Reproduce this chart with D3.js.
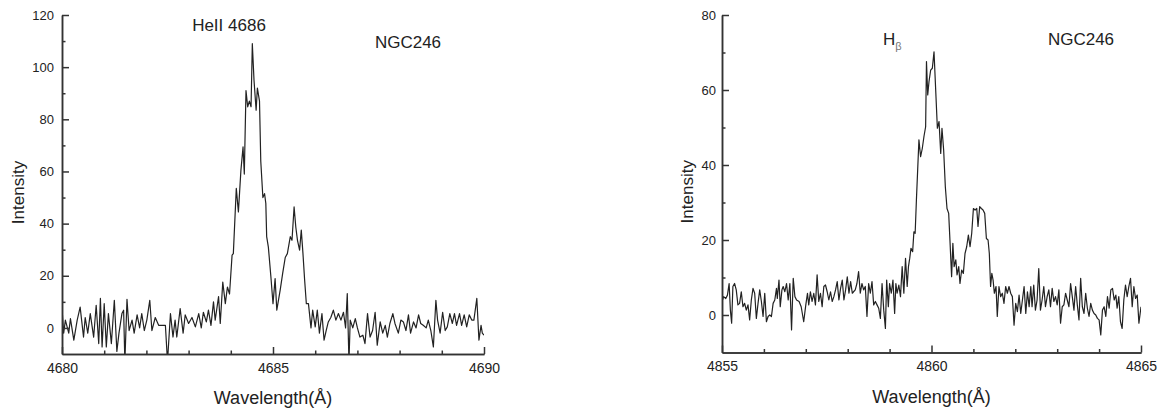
<!DOCTYPE html>
<html>
<head>
<meta charset="utf-8">
<script src="https://cdn.jsdelivr.net/npm/d3@7"></script>
<style>
  body { margin: 0; background: #fff; }
  text { font-family: 'Liberation Sans', Arial, sans-serif; fill: #222; }
</style>
</head>
<body>
<script>
// HeII 4686 panel: wavelength offsets from heStart (Å) and intensities
const heStart = 4680
const heOffset = [
  0.00, 0.04, 0.08, 0.16, 0.20, 0.28, 0.36, 0.43, 0.51, 0.55,
  0.61, 0.67, 0.75, 0.81, 0.87, 0.91, 0.95, 1.00, 1.05, 1.10,
  1.17, 1.24, 1.30, 1.35, 1.42, 1.46, 1.49, 1.54, 1.59, 1.66,
  1.71, 1.78, 1.84, 1.89, 1.95, 2.01, 2.08, 2.13, 2.21, 2.29,
  2.37, 2.45, 2.50, 2.57, 2.63, 2.68, 2.72, 2.80, 2.87, 2.92,
  3.00, 3.08, 3.16, 3.24, 3.30, 3.35, 3.42, 3.47, 3.53, 3.59,
  3.63, 3.71, 3.75, 3.81, 3.87, 3.92, 3.97, 4.03, 4.06, 4.13,
  4.18, 4.24, 4.29, 4.32, 4.36, 4.40, 4.44, 4.48, 4.51, 4.55,
  4.60, 4.63, 4.68, 4.71, 4.76, 4.80, 4.83, 4.85, 4.89, 4.95,
  5.00, 5.05, 5.09, 5.17, 5.23, 5.29, 5.34, 5.41, 5.45, 5.50,
  5.54, 5.58, 5.63, 5.67, 5.71, 5.75, 5.79, 5.84, 5.90, 5.94,
  6.00, 6.05, 6.10, 6.16, 6.21, 6.26, 6.31, 6.37, 6.43, 6.49,
  6.55, 6.61, 6.67, 6.72, 6.76, 6.80, 6.83, 6.89, 6.95, 7.00,
  7.06, 7.13, 7.18, 7.24, 7.30, 7.36, 7.42, 7.47, 7.54, 7.60,
  7.66, 7.71, 7.77, 7.84, 7.89, 7.97, 8.03, 8.09, 8.15, 8.21,
  8.26, 8.33, 8.39, 8.45, 8.50, 8.56, 8.63, 8.68, 8.74, 8.80,
  8.86, 8.90, 8.96, 9.02, 9.08, 9.13, 9.19, 9.25, 9.30, 9.35,
  9.42, 9.47, 9.53, 9.59, 9.65, 9.71, 9.76, 9.83, 9.88, 9.93,
  9.96, 10.00
]
const heIntensity = [
  7.4, -2, 3, -2, 3.6, -4.7, 3, 8, -3.5, 4,
  -2, 5.5, -3.5, 8.7, -6, 11.3, -7.3, 9.3, -7.3, 5.5,
  -6, 10.6, -9, -2, 5.5, 6.8, -13, 11, -1, 3,
  -2, 5, 0, 5.5, -1, 3, 10.6, -1, 4, 1,
  1, 1, -13, 5.5, -3.5, 3, -3.5, 7.4, -2, 5,
  1.7, 4, 0.4, 5.5, 0, 6, 2.3, 6.8, 1, 10,
  3, 12, 1.7, 17.6, 9.3, 15.7, 13, 27.9, 28.5, 53.5,
  44.5, 60.5, 69.4, 59, 91, 84.8, 87, 84.8, 109, 95,
  83.5, 92, 87, 64, 50, 51.5, 47.7, 35, 31, 19.6,
  9.3, 18.9, 6.8, 14.5, 21, 27, 28.5, 35, 33.6, 46.4,
  38.7, 33.6, 29.8, 37.5, 28.5, 18.3, 9.3, 9.3, 0, 6.8,
  0.4, 6.8, -2, 5.5, -4.7, -1, 2.3, 4, 6.8, 3,
  5.5, 3, 6, 0, 13.2, -13, 3, 0, 3.6, 0,
  -3.5, -2.8, -6, 5.5, -3.5, -1, 6, -6.6, 2.3, -2,
  1, -3.5, 1.7, 5.5, 1.7, -2, 3, 2.3, -1, 5,
  -2, 2.3, 0, 5, 1.7, 1, 0, 3, -1, -7.3,
  10.6, 3, -2, 6, -1, 0.4, 5.5, 1.7, 5.5, 1,
  5.5, 1, 5, 0.4, 5, 3, 3, 11.3, -4.7, 1,
  -2, -2.8
]

// H beta panel
const hbStart = 4855
const hbOffset = [
  0.00, 0.04, 0.09, 0.13, 0.17, 0.20, 0.23, 0.26, 0.30, 0.34,
  0.38, 0.42, 0.46, 0.50, 0.54, 0.58, 0.62, 0.66, 0.70, 0.74,
  0.78, 0.82, 0.86, 0.90, 0.94, 0.98, 1.02, 1.06, 1.10, 1.14,
  1.18, 1.22, 1.26, 1.30, 1.32, 1.36, 1.39, 1.43, 1.46, 1.50,
  1.54, 1.58, 1.62, 1.66, 1.70, 1.74, 1.78, 1.84, 1.89, 1.95,
  2.00, 2.04, 2.07, 2.11, 2.15, 2.19, 2.23, 2.27, 2.31, 2.35,
  2.39, 2.43, 2.47, 2.51, 2.55, 2.59, 2.63, 2.67, 2.71, 2.75,
  2.79, 2.83, 2.87, 2.91, 2.95, 2.99, 3.03, 3.07, 3.11, 3.14,
  3.18, 3.22, 3.26, 3.30, 3.34, 3.38, 3.42, 3.46, 3.50, 3.54,
  3.58, 3.62, 3.66, 3.70, 3.74, 3.78, 3.82, 3.86, 3.90, 3.93,
  3.97, 4.00, 4.04, 4.08, 4.12, 4.15, 4.18, 4.22, 4.26, 4.30,
  4.34, 4.38, 4.42, 4.45, 4.48, 4.51, 4.55, 4.58, 4.61, 4.64,
  4.67, 4.70, 4.74, 4.78, 4.82, 4.86, 4.88, 4.91, 4.94, 4.98,
  5.02, 5.06, 5.10, 5.14, 5.18, 5.22, 5.25, 5.29, 5.33, 5.37,
  5.41, 5.44, 5.48, 5.51, 5.54, 5.58, 5.61, 5.65, 5.68, 5.72,
  5.76, 5.80, 5.84, 5.88, 5.92, 5.96, 6.00, 6.04, 6.08, 6.11,
  6.15, 6.19, 6.23, 6.27, 6.31, 6.35, 6.38, 6.41, 6.44, 6.47,
  6.50, 6.54, 6.57, 6.61, 6.65, 6.69, 6.73, 6.77, 6.81, 6.85,
  6.89, 6.93, 6.97, 7.01, 7.05, 7.09, 7.13, 7.17, 7.21, 7.25,
  7.29, 7.33, 7.37, 7.40, 7.44, 7.48, 7.52, 7.56, 7.60, 7.64,
  7.68, 7.72, 7.76, 7.80, 7.84, 7.88, 7.92, 7.96, 8.00, 8.04,
  8.08, 8.12, 8.16, 8.20, 8.24, 8.28, 8.32, 8.36, 8.40, 8.44,
  8.48, 8.52, 8.56, 8.60, 8.64, 8.68, 8.72, 8.76, 8.80, 8.84,
  8.88, 8.92, 8.96, 9.00, 9.04, 9.08, 9.12, 9.16, 9.20, 9.24,
  9.28, 9.32, 9.36, 9.40, 9.43, 9.47, 9.51, 9.55, 9.59, 9.63,
  9.67, 9.71, 9.75, 9.79, 9.83, 9.87, 9.91, 9.95, 10.00
]
const hbIntensity = [
  3.6, 4.9, 4.4, 5.3, 8.4, 1.3, -2.2, 7.6, 8.4, 6.7,
  2.7, 3.1, 6.2, 2.2, 3.1, 1.3, 2.7, -1.3, 4, 7.1,
  5.8, -0.9, 3.1, 6.7, 3.6, -0.4, 5.8, -1.8, -0.4, 0,
  -0.4, 3.1, 4, 7.1, 4.4, 9.3, 2.2, 6.7, 7.6, 6.2,
  8.4, 4, 8.4, -4, 9.8, 4.9, 4, 3.6, 2.2, -1.8,
  2.7, 5.8, 2.7, 6.2, 3.6, 5.8, 2.7, 10.7, 3.6, 5.8,
  2.2, 7.6, 8, 6.2, 4, 6.2, 3.6, 4.9, 6.7, 8.9,
  4, 7.1, 9.3, 4, 6.7, 10.2, 5.8, 8.9, 5.8, 6.2,
  6.7, 8.4, 11.6, 5.8, 8.4, 6.7, 7.6, -0.4, 8.4, 5.8,
  8.9, 2.7, 3.6, 2.7, 1.8, -0.9, 8.4, 1.3, -3.6, 9.3,
  2.2, 8.4, 5.8, 9.3, 0.4, 8.4, 5.8, 8, 4.9, 12.9,
  5.8, 15.1, 7.6, 12.9, 15.1, 17.8, 16.9, 22.2, 21.8, 30.7,
  38.7, 46.7, 42.2, 44.4, 47.6, 50.2, 67.6, 58.7, 62.2, 65.3,
  65.8, 70.2, 60, 49.8, 51.6, 43.1, 49.8, 44, 34.2, 28.4,
  27.1, 20, 10.2, 19.1, 12.9, 14.7, 10.7, 12.9, 8.4, 12,
  11.1, 16.4, 18.2, 21.3, 18.2, 21.8, 28.4, 28, 28.4, 23.6,
  28.9, 28.4, 28, 27.1, 20.4, 20, 16.4, 7.6, 11.1, 9.3,
  5.8, 7.6, -0.4, 7.6, 4.9, 5.8, 3.1, 7.6, 5.8, 7.6,
  5.8, 4.9, -2.7, 3.1, 0.9, 5.3, 0.4, 4, 7.6, 0.4,
  6.2, 2.2, 7.6, 2.2, 8, 1.3, 4, 12.4, 1.3, 4,
  7.6, 2.2, 4.9, 6.7, 2.2, 7.1, 3.6, 4.9, 2.7, 6.7,
  -2.2, 2.2, 2.7, 5.8, 4, 2.2, 8.4, 4.9, 1.3, 7.6,
  2.7, -1.3, 9.8, 2.2, 0.4, 5.8, 1.8, -0.4, 3.1, 1.3,
  0.4, 0, -0.9, -1.3, -5.3, 1.3, 2.2, -0.4, 4.9, 1.8,
  6.7, 7.1, 4, 5.3, 1.8, 4.9, -1.8, -3.6, 4, 8,
  4.9, 7.6, 9.8, 2.2, 7.6, 4.4, 5.3, -2.2, 2.2
]

// axis ticks
const heXMajor = [4680, 4685, 4690]
const heYMajor = [0, 20, 40, 60, 80, 100, 120]
const hbXMajor = [4855, 4860, 4865]
const hbYMajor = [0, 20, 40, 60, 80]

const svg = d3.select('body').append('svg')
  .attr('width', 1162)
  .attr('height', 409)

/**
 * Draws one spectrum panel with inward ticks
 */
function drawPanel (p) {
  const x = d3.scaleLinear().domain(p.xDomain).range([p.left, p.right])
  const y = d3.scaleLinear().domain(p.yDomain).range([p.bottom, p.top])
  const g = svg.append('g')

  const clipId = 'clip-' + p.id
  svg.append('clipPath').attr('id', clipId)
    .append('rect')
    .attr('x', p.left)
    .attr('y', p.top - 5)
    .attr('width', p.right - p.left)
    .attr('height', p.bottom - p.top + 5)

  const points = p.offset.map((o, i) => [p.start + o, p.intensity[i]])
  const line = d3.line().x(d => x(d[0])).y(d => y(d[1]))
  g.append('path')
    .datum(points)
    .attr('clip-path', 'url(#' + clipId + ')')
    .attr('fill', 'none')
    .attr('stroke', '#222')
    .attr('stroke-width', 1.2)
    .attr('stroke-linejoin', 'round')
    .attr('d', line)

  // minor ticks every 1 Å and every 10 intensity units
  const xMinor = d3.range(p.xDomain[0] + 1, p.xDomain[1], 1).filter(v => !p.xMajor.includes(v))
  const yMinor = d3.range(10, p.yDomain[1], 20)

  g.append('g')
    .attr('transform', `translate(0,${p.bottom})`)
    .call(d3.axisBottom(x).tickValues(xMinor).tickSize(-3.5).tickSizeOuter(0).tickFormat(''))
  g.append('g')
    .attr('transform', `translate(${p.left},0)`)
    .call(d3.axisLeft(y).tickValues(yMinor).tickSize(-3.5).tickSizeOuter(0).tickFormat(''))

  const xAxis = g.append('g')
    .attr('transform', `translate(0,${p.bottom})`)
    .call(d3.axisBottom(x).tickValues(p.xMajor).tickSize(-7).tickSizeOuter(0).tickPadding(9).tickFormat(d3.format('d')))
  const yAxis = g.append('g')
    .attr('transform', `translate(${p.left},0)`)
    .call(d3.axisLeft(y).tickValues(p.yMajor).tickSize(-7).tickSizeOuter(0).tickPadding(p.yPad).tickFormat(d3.format('d')))

  g.selectAll('.domain, .tick line')
    .attr('stroke', '#333')
    .attr('stroke-width', 1.5)
  xAxis.selectAll('text').attr('font-size', '14px').attr('fill', '#222')
  yAxis.selectAll('text').attr('font-size', '13px').attr('fill', '#222')
  g.selectAll('text').attr('font-family', null)

  g.append('text')
    .attr('x', (p.left + p.right) / 2)
    .attr('y', p.bottom + 50)
    .attr('text-anchor', 'middle')
    .attr('font-size', '18px')
    .text('Wavelength(Å)')

  g.append('text')
    .attr('transform', `translate(${p.yTitleX},${(p.top + p.bottom) / 2 + 8}) rotate(-90)`)
    .attr('text-anchor', 'middle')
    .attr('font-size', '17px')
    .text('Intensity')

  g.append('text')
    .attr('x', p.tagX)
    .attr('y', p.tagY)
    .attr('text-anchor', 'middle')
    .attr('font-size', '17px')
    .text('NGC246')

  return g
}

const left = drawPanel({
  id: 'he',
  start: heStart,
  offset: heOffset,
  intensity: heIntensity,
  xDomain: [4680, 4690],
  yDomain: [-10, 120],
  xMajor: heXMajor,
  yMajor: heYMajor,
  left: 62,
  right: 484,
  top: 15,
  bottom: 354,
  yPad: 8,
  yTitleX: 24,
  tagX: 408,
  tagY: 48
})
left.append('text')
  .attr('x', 229)
  .attr('y', 31)
  .attr('text-anchor', 'middle')
  .attr('font-size', '17px')
  .text('HeII 4686')

const right = drawPanel({
  id: 'hb',
  start: hbStart,
  offset: hbOffset,
  intensity: hbIntensity,
  xDomain: [4855, 4865],
  yDomain: [-10, 80],
  xMajor: hbXMajor,
  yMajor: hbYMajor,
  left: 722,
  right: 1141,
  top: 15,
  bottom: 352.5,
  yPad: 6,
  yTitleX: 693,
  tagX: 1081,
  tagY: 45
})
const hb = right.append('text')
  .attr('x', 883)
  .attr('y', 45)
  .attr('font-size', '17px')
hb.append('tspan').text('H')
hb.append('tspan')
  .attr('dy', 5)
  .attr('font-size', '11px')
  .attr('fill', '#777')
  .text('β')
</script>
</body>
</html>
